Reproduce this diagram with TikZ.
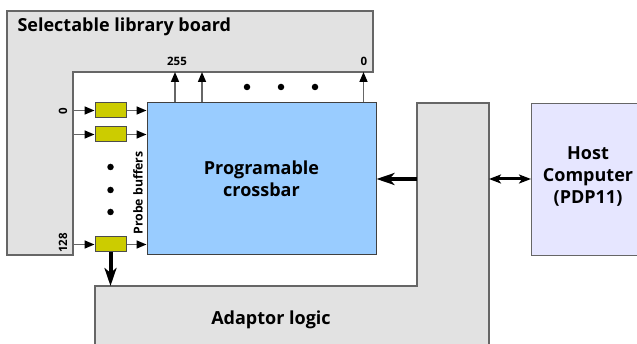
\documentclass[tikz,border=0pt]{standalone}
\usepackage{fontspec}
\setmainfont{Open Sans}
\usetikzlibrary{arrows.meta}
\definecolor{panel}{HTML}{E2E2E2}
\definecolor{edge}{HTML}{666666}
\definecolor{xbarblue}{HTML}{99CCFF}
\definecolor{bufyellow}{HTML}{CCCC00}
\definecolor{hostfill}{HTML}{E6E6FF}
\tikzset{
  panelshape/.style={fill=panel, draw=edge, line width=1.2pt},
  bufbox/.style={draw=black!70, line width=1pt, fill=bufyellow, minimum width=31pt, minimum height=15pt, inner sep=0pt},
  sig/.style={draw=edge, line width=1.6pt, -{Triangle[length=10pt,width=8pt,color=black]}},
  bus/.style={draw=black, line width=4pt, -{Stealth[length=18pt,width=12pt,inset=5pt]}},
  duplex/.style={draw=black, line width=3pt, {Stealth[length=12pt,width=9pt,inset=3pt]}-{Stealth[length=12pt,width=9pt,inset=3pt]}},
  dot/.style={circle, fill=black, inner sep=0pt, minimum size=6.5pt},
  biglabel/.style={font=\fontsize{18}{22}\selectfont\bfseries, align=center},
  smalllabel/.style={font=\fontsize{11.5}{13}\selectfont\bfseries, inner sep=0pt},
}
\begin{document}
\begin{tikzpicture}[x=1pt, y=-1pt]
  \useasboundingbox (0,0) rectangle (637,344);
  \clip (0,0) rectangle (637,344);

  % selectable library board (L-shaped)
  \path[panelshape] (7,11) -- (373,11) -- (373,72) -- (73,72) -- (73,255) -- (7,255) -- cycle;
  \node[biglabel, anchor=west] (boardlbl) at (14,27) {Selectable library board};

  % adaptor logic (L-shaped)
  \path[panelshape] (95,350) -- (95,286) -- (417,286) -- (417,103) -- (489,103) -- (489,350) -- cycle;
  \node[biglabel] (adlbl) at (271,320) {Adaptor logic};
  \coordinate (adL) at (417,179);
  \coordinate (adR) at (489,179);
  \coordinate (adTop) at (110.5,286);

  % crossbar
  \node[draw=black!75, line width=1pt, fill=xbarblue, minimum width=229pt, minimum height=152pt, biglabel]
    (xbar) at (261.5,179) {Programable\\crossbar};

  % host computer
  \node[draw=edge, line width=1.2pt, fill=hostfill, minimum width=110pt, minimum height=152pt, anchor=north west, inner sep=0pt]
    (host) at (531,103) {};
  \node[biglabel] (hostlbl) at (588,177) {Host\\Computer\\(PDP11)};

  % probe buffers
  \node[bufbox] (b1) at (110.5,110.5) {};
  \node[bufbox] (b2) at (110.5,134.5) {};
  \node[bufbox] (b3) at (110.5,244.5) {};
  \coordinate (in1) at (73,110.5);
  \coordinate (in2) at (73,134.5);
  \coordinate (in3) at (73,244.5);
  \foreach \k in {1,2,3} {
    \draw[sig] (in\k) -- (b\k.west);
    \draw[sig] (b\k.east) -- (b\k.east -| xbar.west);
  }
  \node[dot] (d1) at (110.5,167) {};
  \node[dot] (d2) at (110.5,190) {};
  \node[dot] (d3) at (110.5,212) {};
  \node[smalllabel, rotate=90] (lin0) at (63,111) {0};
  \node[smalllabel, rotate=90] (lin128) at (63,243) {128};
  \node[font=\fontsize{12.3}{14}\selectfont\bfseries, rotate=90, inner sep=0pt] (pblbl) at (138,193) {Probe buffers};

  % crossbar outputs to the board
  \coordinate (o1) at (175,72);
  \coordinate (o2) at (202,72);
  \coordinate (o3) at (363.5,72);
  \foreach \k in {1,2,3} {
    \draw[sig] (xbar.north -| o\k) -- (o\k);
  }
  \node[dot] (e1) at (247,87) {};
  \node[dot] (e2) at (281,87) {};
  \node[dot] (e3) at (315,87) {};
  \node[smalllabel] (out255) at (177,61) {255};
  \node[smalllabel] (out0) at (364,61) {0};

  % buses
  \draw[bus] (adL) -- (adL -| xbar.east);
  \draw[bus] (b3.south) -- (adTop);
  \draw[duplex] (adR) -- (adR -| host.west);
\end{tikzpicture}
\end{document}
